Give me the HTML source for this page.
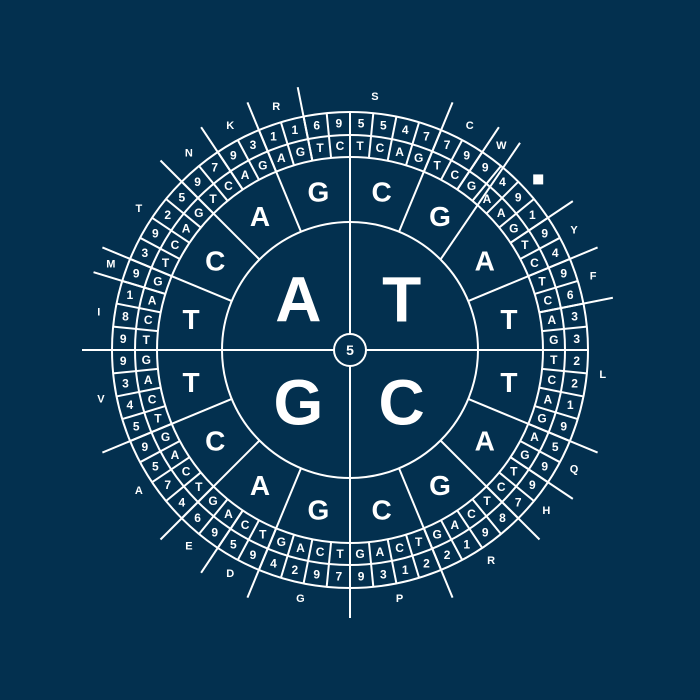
<!DOCTYPE html>
<html><head><meta charset="utf-8"><style>
html,body{margin:0;padding:0;background:#03304f;}
svg{display:block;}
text{font-family:"Liberation Sans",sans-serif;fill:#fff;font-weight:bold;text-anchor:middle;dominant-baseline:central;}
</style></head><body>
<svg id="wheel" width="700" height="700" viewBox="0 0 700 700" xmlns="http://www.w3.org/2000/svg">
<rect x="0" y="0" width="700" height="700" fill="#03304f"/>
<g id="lines" stroke="#fff" stroke-width="2" fill="none"></g>
<g id="labels"></g>
</svg>
<script>
const quadrantLetters = ["T","C","G","A"]; // TR, BR, BL, TL
const sectorLetters = ["C","G","A","T","T","A","G","C","G","A","C","T","T","C","A","G"];
const codonLetters = ("TCAGTCGAAGTCTCAG"+"TCAGAGTCTCAGTCAG"+"TCAGTCAGTCAGTCAG"+"TCAGTCAGTCAGAGTC").split("");
const codonNumbers = ("5547799491949633"+"2219599789122139"+"7924959647595439"+"9819392597931169").split("");
const aminoNames = ["S","C","W","■","Y","F","L","Q","H","R","P","G","D","E","A","V","I","M","T","N","K","R"];
const aminoStart = [62,4,6,7,10,12,14,20,22,24,28,32,36,38,40,44,48,51,52,56,58,60];
const aminoEnd   = [68,6,7,10,12,14,20,22,24,28,32,36,38,40,44,48,51,52,56,58,60,62];
const centerLabel = "5";

const CX=350, CY=350, R0=16, R1=128, R2=193, R3=215, R4=238, ROUT=268, RLAB=254;
const NS="http://www.w3.org/2000/svg";
const linesG=document.getElementById('lines'), labG=document.getElementById('labels');
function px(r,a){return CX+r*Math.sin(a*Math.PI/180);}
function py(r,a){return CY-r*Math.cos(a*Math.PI/180);}
function cellAngle(i){return i*360/codonLetters.length;}
function mk(tag,attrs,parent){const e=document.createElementNS(NS,tag);for(const k in attrs)e.setAttribute(k,attrs[k]);parent.appendChild(e);return e;}
function line(r1,a1,r2,a2,name){
  const l=mk('line',{x1:px(r1,a1),y1:py(r1,a1),x2:px(r2,a2),y2:py(r2,a2)},linesG);
  
  
}
function txt(s,x,y,size,name){
  const t=mk('text',{x:x,y:y,'font-size':size},labG);t.textContent=s;
  
  
  return t;
}
// circles
[R1,R2,R3,R4].forEach(r=>{
  const c=mk('circle',{cx:CX,cy:CY,r:r},linesG);
  
  
});
// quadrant lines
line(R0,0,R4,0,'quadrant-line-top');
line(R0,90,R4,90,'quadrant-line-right');
line(R0,180,ROUT,180,'quadrant-line-bottom');
line(R0,270,ROUT,270,'quadrant-line-left');
// sector lines (16 sectors), 45 deg line bends to the W/stop boundary
for(let s=1;s<16;s++){
  if(s%4===0) continue;
  const a=s*22.5;
  const aOut = (s===2)? cellAngle(7) : a;
  line(R1,a,ROUT,aOut,'sector-divider');
}
// amino acid boundaries not on sector lines
const sectorCells = codonLetters.length/16;
aminoStart.forEach(st=>{
  if(st%sectorCells!==0 && st!==7) line(R2,cellAngle(st),ROUT,cellAngle(st),'amino-divider');
});
// cell dividers
for(let i=0;i<codonLetters.length;i++){
  line(R2,cellAngle(i),R4,cellAngle(i),'codon-cell-divider');
}
// center circle
const cc=mk('circle',{cx:CX,cy:CY,r:R0,fill:'#03304f',stroke:'#fff','stroke-width':2},labG);


txt(centerLabel,CX,CY,14,'center-number');
// quadrant letters
quadrantLetters.forEach((L,i)=>{const a=45+90*i;txt(L,px(73,a),py(73,a)+1,64,'first-base-'+L);});
// sector letters
sectorLetters.forEach((L,i)=>{const a=i*22.5+11.25;txt(L,px(162,a),py(162,a)+1,28,'second-base-'+L);});
// codon letters & numbers
codonLetters.forEach((L,i)=>{const a=cellAngle(i)+180/codonLetters.length;txt(L,px(204,a),py(204,a),12,'third-base-'+L);});
codonNumbers.forEach((N,i)=>{const a=cellAngle(i)+180/codonNumbers.length;txt(N,px(227,a),py(227,a),12,'codon-number');});
// amino labels
aminoNames.forEach((N,i)=>{
  let s=aminoStart[i],e=aminoEnd[i];
  const a=(s+e)/2*360/codonLetters.length;
  if(N==="■"){
    const r=mk('rect',{x:px(RLAB,a)-5,y:py(RLAB,a)-5,width:10,height:10,fill:'#fff'},labG);
    
    
  } else {
    txt(N,px(RLAB,a),py(RLAB,a),11,'amino-acid-'+N);
  }
});
</script>
</body></html>
